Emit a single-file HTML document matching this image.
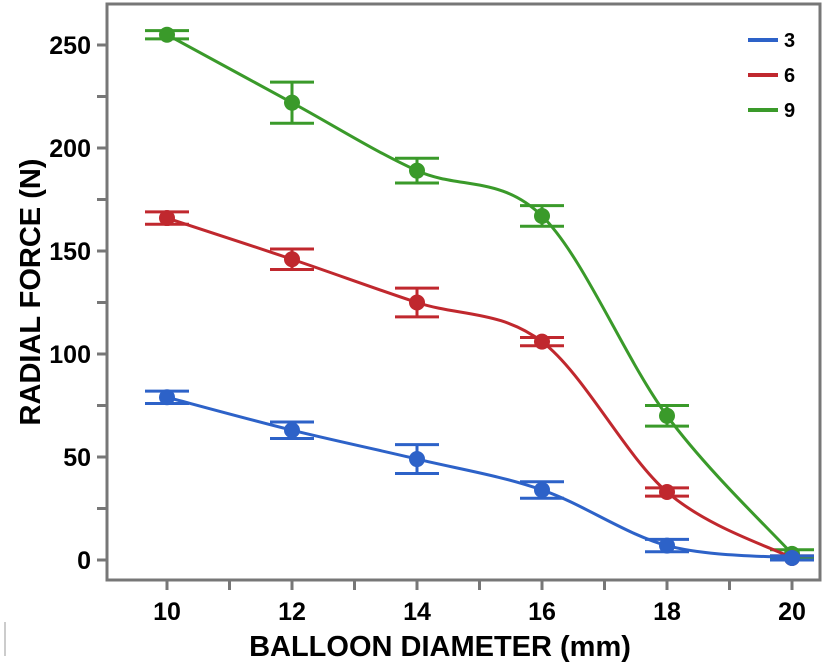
<!DOCTYPE html>
<html><head><meta charset="utf-8"><style>
body{margin:0;background:#fff;width:827px;height:666px;overflow:hidden}
text{font-family:"Liberation Sans",sans-serif;font-weight:bold;fill:#000}
</style></head><body>
<svg id="chart" width="827" height="666" xmlns="http://www.w3.org/2000/svg"></svg>
<script>
const categories=[10,12,14,16,18,20];
const seriesNames=["3","6","9"];
const series3=[79,63,49,34,7,1];
const series6=[166,146,125,106,33,1];
const series9=[255,222,189,167,70,3];
const err3=[3,4,7,4,3,1];
const err6=[3,5,7,2,2,1];
const err9=[2,10,6,5,5,2];
const yTicks=[0,50,100,150,200,250];
const xTicks=[10,12,14,16,18,20];
const colors=["#2d62c8","#c0282e","#3a9a2a"];
const NS="http://www.w3.org/2000/svg";
const svg=document.getElementById('chart');
const X=v=>167+(v-10)*62.5;
const Y=v=>560-v*2.06;
function el(t,a,p){const e=document.createElementNS(NS,t);for(const k in a)e.setAttribute(k,a[k]);(p||svg).appendChild(e);return e;}
const frame=el('rect',{x:107,y:4,width:713,height:576,fill:'none',stroke:'#777','stroke-width':3});


for(let v=10;v<=20;v++){
 const t=el('line',{x1:X(v),x2:X(v),y1:581,y2:590,stroke:'#777','stroke-width':3});
 
 
}
xTicks.forEach(v=>{const t=el('text',{x:X(v),y:620,'text-anchor':'middle','font-size':25});t.textContent=v;
 
 });
for(let v=0;v<=275;v+=25){
 if(Y(v)<8)continue;
 const t=el('line',{x1:97,x2:106,y1:Y(v),y2:Y(v),stroke:'#777','stroke-width':3});
 
 
}
yTicks.forEach(v=>{const t=el('text',{x:91,y:Y(v)+9,'text-anchor':'end','font-size':25});t.textContent=v;
 
 });
const xt=el('text',{x:440,y:656,'text-anchor':'middle','font-size':29});xt.textContent='BALLOON DIAMETER (mm)';


const yt=el('text',{x:0,y:0,'text-anchor':'middle','font-size':29,transform:'translate(40,292) rotate(-90)'});yt.textContent='RADIAL FORCE (N)';


const lm=el('line',{x1:5,x2:5,y1:622,y2:656,stroke:'#999','stroke-width':1});


function smooth(pts){let d=`M${pts[0][0]},${pts[0][1]}`;
 for(let i=0;i<pts.length-1;i++){const p0=pts[i-1]||pts[i],p1=pts[i],p2=pts[i+1],p3=pts[i+2]||p2;
  const c1=[p1[0]+(p2[0]-p0[0])/6,p1[1]+(p2[1]-p0[1])/6],c2=[p2[0]-(p3[0]-p1[0])/6,p2[1]-(p3[1]-p1[1])/6];
  d+=` C${c1[0]},${c1[1]} ${c2[0]},${c2[1]} ${p2[0]},${p2[1]}`;}return d;}
const all=[series3,series6,series9],errs=[err3,err6,err9];
[2,1,0].forEach(s=>{
 const g=el('g',{});
 
 
 const pts=categories.map((c,i)=>[X(c),Y(all[s][i])]);
 const p=el('path',{d:smooth(pts),fill:'none',stroke:colors[s],'stroke-width':3},g);
 
 
 categories.forEach((c,i)=>{
  const v=all[s][i],e=errs[s][i],x=X(c);
  const eb=el('path',{d:`M${x-22},${Y(v+e)}h44M${x-22},${Y(v-e)}h44M${x},${Y(v+e)}V${Y(v-e)}`,stroke:colors[s],'stroke-width':3,fill:'none'},g);
  
  
  const m=el('circle',{cx:x,cy:Y(v),r:8,fill:colors[s]},g);
  
  
 });
});
seriesNames.forEach((n,i)=>{
 const y=40+i*35;
 const l=el('line',{x1:748,x2:778,y1:y,y2:y,stroke:colors[i],'stroke-width':4});
 
 
 const t=el('text',{x:784,y:y+7,'font-size':20});t.textContent=n;
 
 
});
</script>
</body></html>
